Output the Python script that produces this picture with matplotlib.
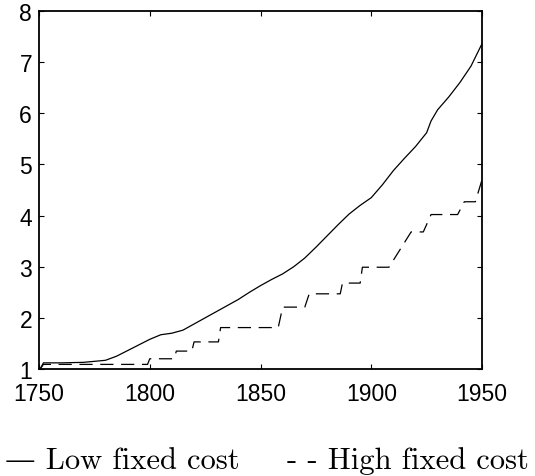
import matplotlib
matplotlib.use("Agg")
import matplotlib.pyplot as plt

# Low fixed cost (solid)
years_low = [1750.5, 1752, 1760, 1770, 1775, 1780, 1785, 1790, 1795, 1800, 1805, 1810,
             1815, 1820, 1825, 1830, 1835, 1840, 1845, 1850, 1855, 1860, 1865, 1870,
             1875, 1880, 1885, 1890, 1895, 1900, 1905, 1910, 1915, 1920, 1925, 1927,
             1930, 1935, 1940, 1945, 1950]
vals_low = [1.0, 1.12, 1.12, 1.13, 1.15, 1.17, 1.25, 1.36, 1.47, 1.58, 1.67, 1.70,
            1.76, 1.88, 2.00, 2.12, 2.24, 2.36, 2.50, 2.63, 2.75, 2.86, 3.00, 3.17,
            3.38, 3.60, 3.82, 4.03, 4.20, 4.35, 4.60, 4.88, 5.12, 5.35, 5.62, 5.85,
            6.07, 6.32, 6.60, 6.92, 7.36]

# High fixed cost (dashed, step-like)
years_high = [1750.5, 1752, 1799, 1800, 1811, 1812, 1819, 1820, 1831, 1832, 1858, 1860,
              1870, 1872, 1886, 1887, 1895, 1896, 1908, 1918, 1923.5, 1927, 1939, 1942,
              1947, 1950]
vals_high = [1.0, 1.09, 1.09, 1.20, 1.20, 1.35, 1.35, 1.53, 1.53, 1.81, 1.81, 2.21,
             2.21, 2.47, 2.47, 2.68, 2.68, 2.99, 2.99, 3.68, 3.68, 4.02, 4.02, 4.27,
             4.27, 4.70]

xticks = [1750, 1800, 1850, 1900, 1950]
yticks = [1, 2, 3, 4, 5, 6, 7, 8]

plt.rcParams['lines.scale_dashes'] = False
fig = plt.figure(figsize=(5.35, 4.77), dpi=100)
ax = fig.add_axes([39/535, 1-370/477, (482-39)/535, (370-12)/477])

ax.plot(years_low, vals_low, color='black', lw=0.9, solid_joinstyle='round')
ax.plot(years_high, vals_high, color='black', lw=0.9, dashes=(9.5, 5.5))

ax.set_xlim(1750, 1950)
ax.set_ylim(1, 8)
ax.set_xticks(xticks)
ax.set_yticks(yticks)
ax.tick_params(direction='in', length=3.5, width=0.8, top=True, right=True,
               labelsize=16.5)
ax.tick_params(axis='x', pad=9.5)
ax.tick_params(axis='y', pad=5)
for lab in ax.get_xticklabels() + ax.get_yticklabels():
    lab.set_family('Liberation Sans')
for s in ax.spines.values():
    s.set_linewidth(1.3)

fam = ['cmr10', 'DejaVu Serif']
fig.text(5/535, 0.017, '\u2014 Low fixed cost', family=fam, fontsize=22,
         ha='left', va='baseline')
fig.text(287/535, 0.017, '- - High fixed cost', family=fam, fontsize=22,
         ha='left', va='baseline')

fig.savefig('out.png', dpi=100)
